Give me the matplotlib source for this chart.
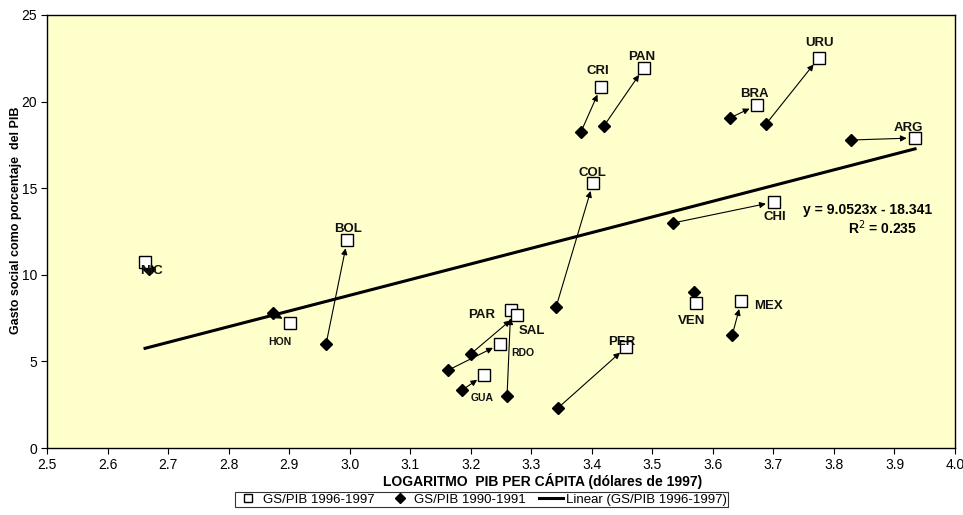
import numpy as np
import matplotlib.pyplot as plt

# datos
paises = ['NIC', 'HON', 'BOL', 'PAR', 'SAL', 'RDO', 'GUA', 'PER', 'CRI', 'PAN',
          'COL', 'URU', 'BRA', 'ARG', 'CHI', 'VEN', 'MEX']
x_9697 = [2.662, 2.901, 2.996, 3.266, 3.276, 3.249, 3.222, 3.457, 3.415, 3.486,
          3.402, 3.775, 3.673, 3.934, 3.701, 3.572, 3.647]
gs_9697 = [10.74, 7.22, 12.0, 7.97, 7.68, 6.0, 4.21, 5.83, 20.84, 21.94,
           15.3, 22.52, 19.8, 17.9, 14.2, 8.37, 8.49]
x_9091 = [2.668, 2.873, 2.961, 3.260, 3.200, 3.163, 3.186, 3.344, 3.382, 3.420,
          3.341, 3.688, 3.628, 3.828, 3.534, 3.569, 3.632]
gs_9091 = [10.33, 7.79, 6.0, 3.0, 5.43, 4.5, 3.35, 2.31, 18.24, 18.59,
           8.14, 18.71, 19.05, 17.78, 12.99, 9.0, 6.52]
sin_flecha = ['NIC', 'VEN']
pequenos = ['HON', 'RDO', 'GUA']

pendiente = 9.0523
intercepto = -18.341
r2 = 0.235

# posicion de etiquetas (offset en pixeles desde el cuadrado)
offsets = {'NIC': (6, -9), 'HON': (-10, -19), 'BOL': (1, 11), 'PAR': (-29, -5),
           'SAL': (15, -16), 'RDO': (22, -9), 'GUA': (-2, -23), 'PER': (-5, 5),
           'CRI': (-3, 16), 'PAN': (-2, 11), 'COL': (-1, 10), 'URU': (1, 15),
           'BRA': (-3, 11), 'ARG': (-7, 10), 'CHI': (1, -15), 'VEN': (-4, -18),
           'MEX': (27, -5)}

fuente = 'Liberation Sans'

fig = plt.figure(figsize=(9.63, 5.15), dpi=100)
ax = fig.add_axes([0.0488, 0.130, 0.9429, 0.841])
ax.set_facecolor('#FFFFCC')

# flechas 1990-1991 -> 1996-1997
for i, p in enumerate(paises):
    if p in sin_flecha:
        continue
    ax.annotate('', xy=(x_9697[i], gs_9697[i]), xytext=(x_9091[i], gs_9091[i]),
                arrowprops=dict(arrowstyle='-|>', color='black', lw=0.8,
                                mutation_scale=9, shrinkA=2, shrinkB=6), zorder=2)

# linea de tendencia
xs = np.array([min(x_9697), max(x_9697)])
ax.plot(xs, pendiente * xs + intercepto, color='black', lw=2.2, zorder=3,
        label='Linear (GS/PIB 1996-1997)')

ax.plot(x_9091, gs_9091, 'D', color='black', ms=6.5, ls='none', zorder=4,
        label='GS/PIB 1990-1991')
ax.plot(x_9697, gs_9697, 's', mfc='white', mec='black', mew=1, ms=8.5, ls='none',
        zorder=5, label='GS/PIB 1996-1997')

for i, p in enumerate(paises):
    dx, dy = offsets[p]
    ax.annotate(p, (x_9697[i], gs_9697[i]), xytext=(dx * 0.72, dy * 0.72),
                textcoords='offset points', ha='center', va='center',
                fontsize=7.5 if p in pequenos else 9.5, fontweight='bold',
                family=fuente, color='#111111', zorder=6)

ax.text(3.855, 13.74, 'y = %.4fx - %.3f' % (pendiente, -intercepto), ha='center',
        va='center', fontsize=10, fontweight='bold', family=fuente)
ax.text(3.88, 12.7, 'R$^2$ = %.3f' % r2, ha='center', va='center', fontsize=10,
        fontweight='bold', family=fuente)

ax.set_xlim(2.5, 4.0)
ax.set_ylim(0, 25)
ax.set_xticks(np.arange(2.5, 4.01, 0.1))
ax.set_xticklabels(['%.1f' % v for v in np.arange(2.5, 4.01, 0.1)],
                   family=fuente, fontsize=10)
ax.set_yticks(range(0, 26, 5))
ax.set_yticklabels([str(v) for v in range(0, 26, 5)], family=fuente, fontsize=10)
ax.tick_params(direction='out', length=4, width=0.8, pad=3)
for s in ax.spines.values():
    s.set_linewidth(1.0)

ax.set_xlabel('LOGARITMO  PIB PER CÁPITA (dólares de 1997)', fontsize=10,
              fontweight='bold', family=fuente)
ax.xaxis.set_label_coords(0.546, -0.058)
ax.set_ylabel('Gasto social como porcentaje  del PIB', fontsize=9,
              fontweight='bold', family=fuente)
ax.yaxis.set_label_coords(-0.0275, 0.527)

h, l = ax.get_legend_handles_labels()
orden = [2, 1, 0]
leg = fig.legend([h[k] for k in orden], [l[k] for k in orden], loc='lower center',
                 bbox_to_anchor=(0.5, 0.002), ncol=3, frameon=True, fancybox=False,
                 edgecolor='black', handlelength=1.8, columnspacing=1.0,
                 handletextpad=0.2, borderpad=0.1, markerscale=0.75,
                 prop={'family': fuente, 'size': 9.5})
leg.get_frame().set_linewidth(0.8)

fig.savefig('out.png', dpi=100, facecolor='white')
